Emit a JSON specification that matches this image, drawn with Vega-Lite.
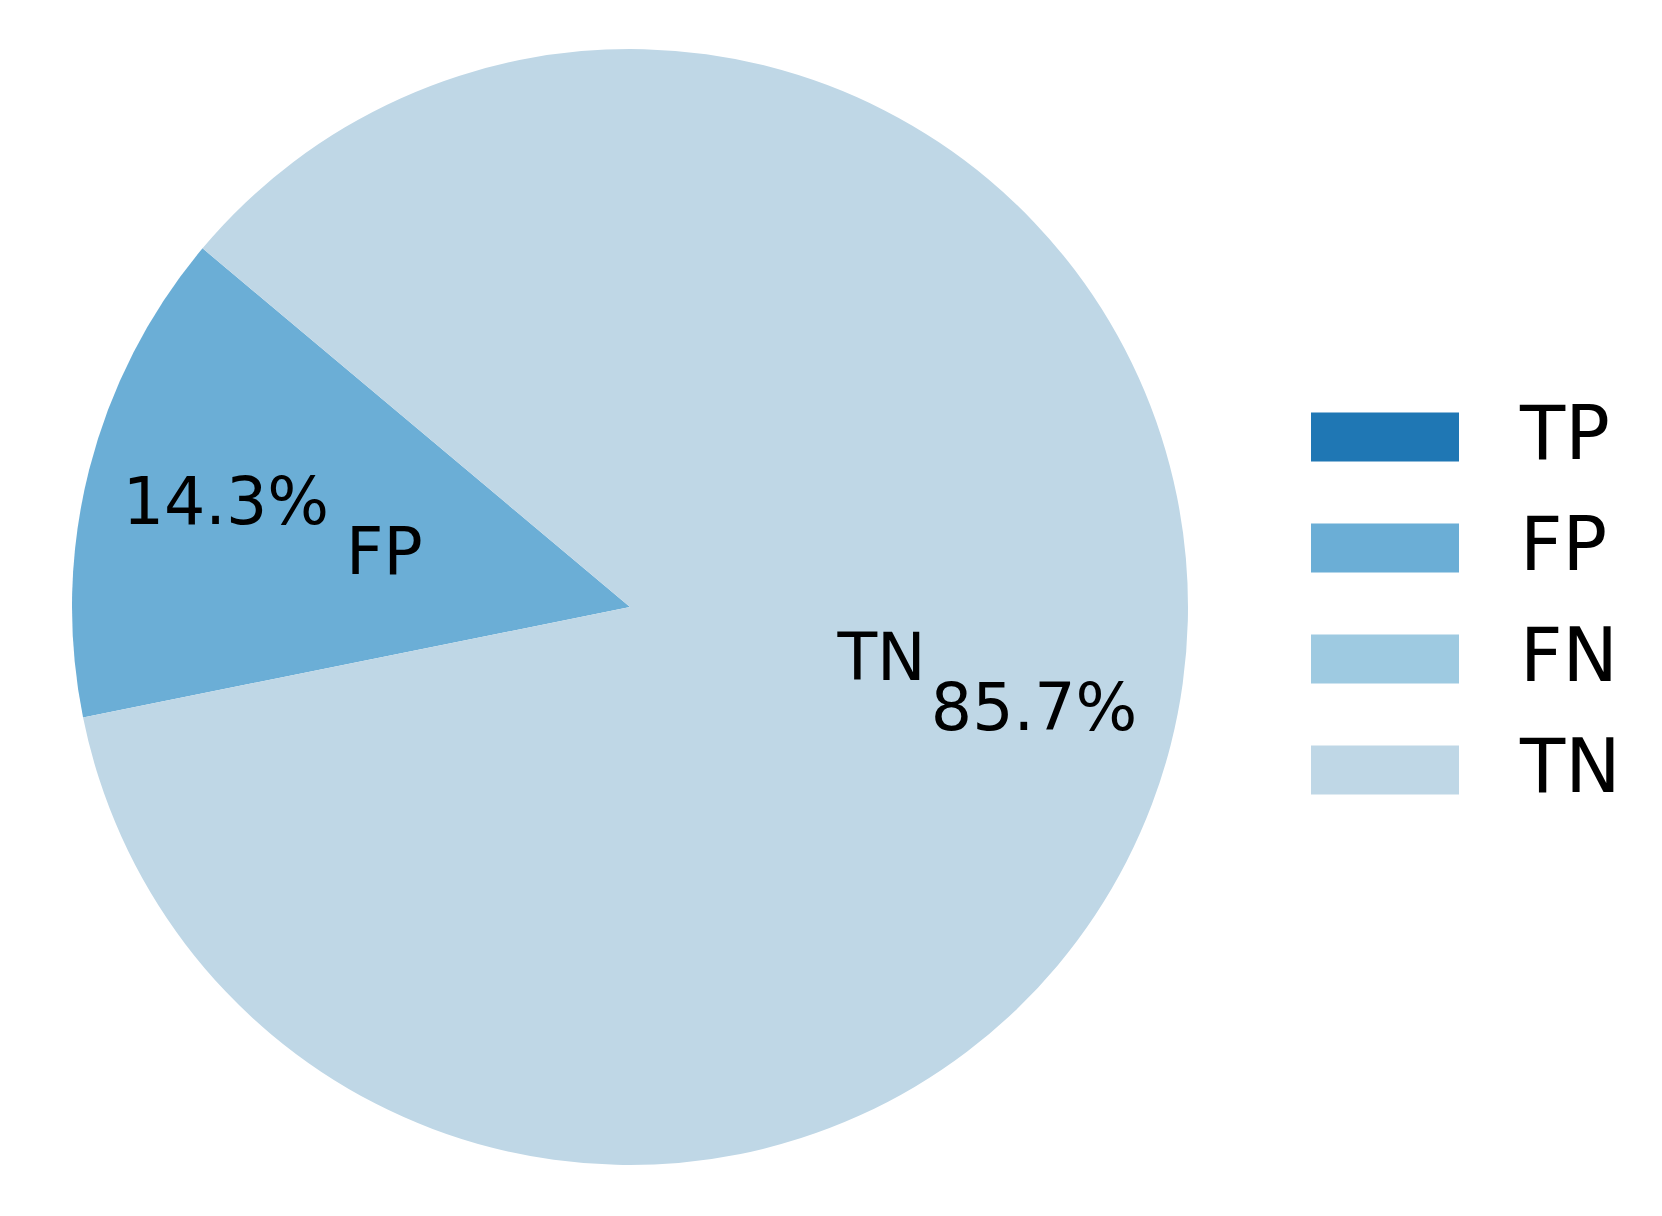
{
  "$schema": "https://vega.github.io/schema/vega-lite/v6.json",
  "autosize": {"type": "none"},
  "padding": {"left": 0, "top": 0, "right": 402, "bottom": 2},
  "width": 1260,
  "height": 1214,
  "background": "white",
  "config": {"view": {"stroke": null}, "font": "DejaVu Sans"},
  "data": {
    "values": [
      {"cat": "TP", "value": 0, "idx": 0, "pct": ""},
      {"cat": "FP", "value": 1, "idx": 1, "pct": "14.3%"},
      {"cat": "FN", "value": 0, "idx": 2, "pct": ""},
      {"cat": "TN", "value": 6, "idx": 3, "pct": "85.7%"}
    ]
  },
  "encoding": {
    "theta": {"field": "value", "type": "quantitative", "stack": true, "scale": {"range": [5.41052, 11.69371]}},
    "order": {"field": "idx", "type": "quantitative", "sort": "descending"}
  },
  "layer": [
    {
      "mark": {"type": "arc", "outerRadius": 558},
      "encoding": {
        "color": {
          "field": "cat",
          "type": "nominal",
          "scale": {"domain": ["TP", "FP", "FN", "TN"], "range": ["#1f77b4", "#6baed6", "#9ecae1", "#bfd7e6"]},
          "legend": {
            "title": null,
            "orient": "none",
            "legendX": 1311,
            "legendY": 363,
            "padding": 0,
            "symbolType": "M-1,-0.331H1V0.331H-1Z",
            "symbolSize": 21904,
            "symbolStrokeWidth": 0,
            "rowPadding": -38,
            "labelOffset": 61,
            "labelFontSize": 74,
            "labelFont": "DejaVu Sans",
            "labelColor": "black",
            "labelLimit": 400
          }
        }
      }
    },
    {
      "mark": {"type": "text", "radius": 417, "fontSize": 65, "align": "center", "baseline": "middle", "color": "black"},
      "encoding": {"text": {"field": "pct"}}
    },
    {
      "mark": {"type": "text", "radius": 214, "fontSize": 65, "align": "right", "baseline": "middle", "color": "black"},
      "encoding": {"text": {"condition": {"test": "datum.cat === 'FP'", "field": "cat"}, "value": ""}}
    },
    {
      "mark": {"type": "text", "radius": 214, "fontSize": 65, "align": "left", "baseline": "middle", "color": "black"},
      "encoding": {"text": {"condition": {"test": "datum.cat === 'TN'", "field": "cat"}, "value": ""}}
    }
  ]
}
